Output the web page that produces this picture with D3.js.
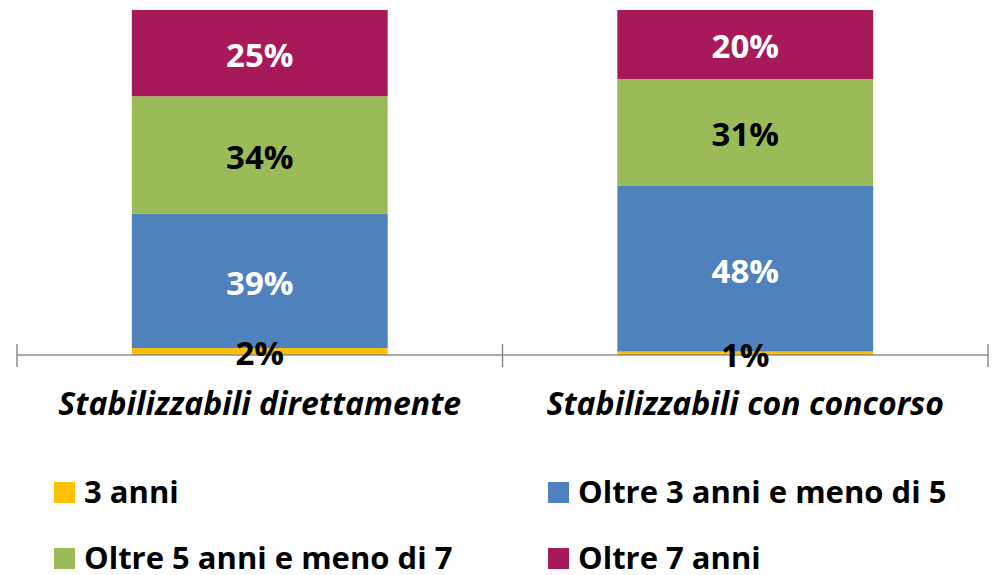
<!DOCTYPE html>
<html>
<head>
<meta charset="utf-8">
<script src="https://cdn.jsdelivr.net/npm/d3@7"></script>
<style>
  body { margin: 0; background: #fff; }
  svg { display: block; font-family: "Open Sans", Lato, sans-serif; }
</style>
</head>
<body>
<div id="chart"></div>
<script>
const width = 992;
const height = 575;

const categories = ['Stabilizzabili direttamente', 'Stabilizzabili con concorso'];
const seriesNames = ['3 anni', 'Oltre 3 anni e meno di 5', 'Oltre 5 anni e meno di 7', 'Oltre 7 anni'];
const anni3 = [0.02, 0.01];
const oltre3 = [0.39, 0.48];
const oltre5 = [0.34, 0.31];
const oltre7 = [0.25, 0.20];
const colors = ['#FFC000', '#4F81BD', '#9BBB59', '#A8195A'];
const labelColors = ['#000', '#fff', '#000', '#fff'];

// table for d3.stack
const table = categories.map((c, i) => ({
  category: c,
  [seriesNames[0]]: anni3[i],
  [seriesNames[1]]: oltre3[i],
  [seriesNames[2]]: oltre5[i],
  [seriesNames[3]]: oltre7[i]
}));

const stacked = d3.stack().keys(seriesNames)(table);

const svg = d3.select('#chart')
  .append('svg')
  .attr('width', width)
  .attr('height', height);

const x = d3.scaleBand()
  .domain(categories)
  .range([17, 988])
  .paddingInner(0.473)
  .paddingOuter(0.2365);

const y = d3.scaleLinear()
  .domain([0, 1])
  .range([355, 10]);

const color = d3.scaleOrdinal().domain(seriesNames).range(colors);

// bars
const layers = svg.append('g')
  .selectAll('g')
  .data(stacked)
  .join('g')
  .attr('fill', d => color(d.key));

layers.selectAll('rect')
  .data(d => d)
  .join('rect')
  .attr('x', d => x(d.data.category))
  .attr('y', d => y(d[1]))
  .attr('width', x.bandwidth())
  .attr('height', d => y(d[0]) - y(d[1]));

// category axis
const axisG = svg.append('g').attr('stroke', '#8c8c8c').attr('stroke-width', 1.5);
const [r0, r1] = x.range();
axisG.append('line')
  .attr('x1', r0).attr('x2', r1)
  .attr('y1', y(0)).attr('y2', y(0));

const tickXs = d3.range(categories.length + 1).map(i => r0 + i * x.step());
axisG.selectAll('.tick')
  .data(tickXs)
  .join('line')
  .attr('class', 'tick')
  .attr('x1', d => d).attr('x2', d => d)
  .attr('y1', y(0) - 11).attr('y2', y(0) + 12);

svg.append('g')
  .selectAll('text')
  .data(categories)
  .join('text')
  .attr('x', d => x(d) + x.bandwidth() / 2)
  .attr('y', 415)
  .attr('text-anchor', 'middle')
  .attr('font-size', 32)
  .attr('font-weight', 'bold')
  .attr('font-style', 'italic')
  .attr('fill', '#000')
  .text(d => d);

// value labels
stacked.forEach((layer, li) => {
  svg.append('g')
    .selectAll('text')
    .data(layer)
    .join('text')
    .attr('x', d => x(d.data.category) + x.bandwidth() / 2)
    .attr('y', d => (y(d[0]) + y(d[1])) / 2)
    .attr('dy', '0.42em')
    .attr('text-anchor', 'middle')
    .attr('font-size', 33)
    .attr('font-weight', 'bold')
    .attr('fill', labelColors[li])
    .text(d => Math.round((d[1] - d[0]) * 100) + '%');
});

// legend
const legendPos = [[54, 482], [548, 482], [54, 548], [548, 548]];
const legend = svg.append('g')
  .selectAll('g')
  .data(seriesNames)
  .join('g')
  .attr('transform', (d, i) => `translate(${legendPos[i][0]}, ${legendPos[i][1]})`);

legend.append('rect')
  .attr('width', 21)
  .attr('height', 21)
  .attr('fill', d => color(d));

legend.append('text')
  .attr('x', 30)
  .attr('y', 21)
  .attr('font-size', 31)
  .attr('font-weight', 'bold')
  .attr('fill', '#000')
  .text(d => d);
</script>
</body>
</html>
